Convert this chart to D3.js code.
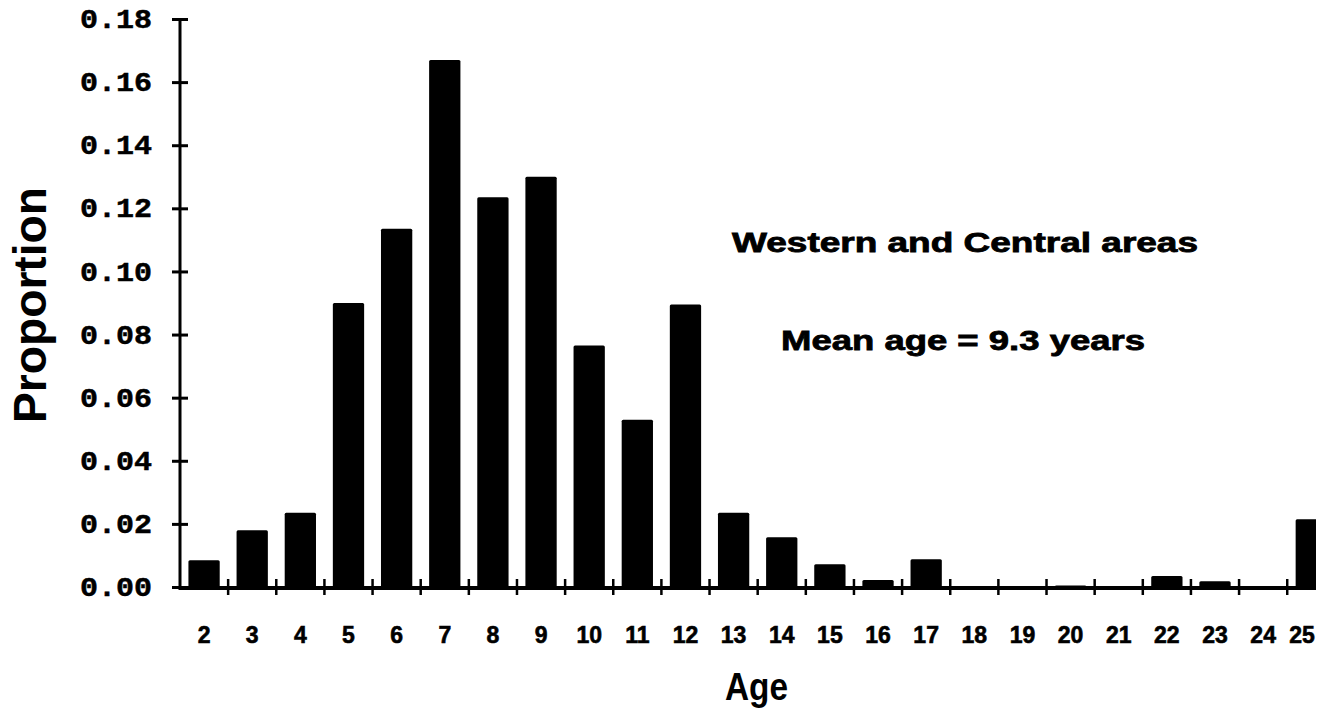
<!DOCTYPE html>
<html>
<head>
<meta charset="utf-8">
<script src="https://cdn.jsdelivr.net/npm/d3@7"></script>
<style>
  html, body { margin: 0; padding: 0; background: #fff; }
  svg { display: block; }
</style>
</head>
<body>
<svg id="chart" width="1320" height="710"></svg>
<script>
// Age classes (years) and the proportion of the sample in each class
const ages = [2, 3, 4, 5, 6, 7, 8, 9, 10, 11, 12, 13, 14, 15, 16, 17, 18, 19, 20, 21, 22, 23, 24, 25];
const proportions = [0.0085, 0.018, 0.0235, 0.090, 0.1135, 0.167, 0.1235, 0.130, 0.0765, 0.053, 0.0895,
                     0.0235, 0.0158, 0.0072, 0.0022, 0.0088, 0, 0, 0.0005, 0, 0.0035, 0.0018, 0, 0.0215];
const yTicks = [0, 0.02, 0.04, 0.06, 0.08, 0.10, 0.12, 0.14, 0.16, 0.18];
const areaLabel = "Western and Central areas";
const meanLabel = "Mean age = 9.3 years";
const xTitle = "Age";
const yTitle = "Proportion";

const data = ages.map((a, i) => ({ age: a, value: proportions[i] }));

const svg = d3.select("#chart");
const sans = "'Liberation Sans', Arial, Helvetica, sans-serif";
const mono = "'Liberation Mono', 'Courier New', monospace";

const axisX = 180;
const rightEdge = 1316;
const step = 48.14;

const x = d3.scaleBand()
  .domain(ages)
  .range([axisX, axisX + step * ages.length])
  .paddingInner(0.35)
  .paddingOuter(0.175);

const y = d3.scaleLinear()
  .domain([0, 0.18])
  .range([587, 19]);

// The plotting frame stops at the right margin; the last bar is trimmed there
svg.append("defs").append("clipPath").attr("id", "plot-clip")
  .append("rect")
  .attr("x", axisX).attr("y", 0)
  .attr("width", rightEdge - axisX).attr("height", 710);

// Bars
svg.append("g")
  .attr("clip-path", "url(#plot-clip)")
  .selectAll("rect")
  .data(data.filter(d => d.value > 0))
  .join("rect")
  .attr("x", d => x(d.age))
  .attr("width", x.bandwidth())
  .attr("y", d => y(d.value))
  .attr("height", d => y(0) - y(d.value))
  .attr("rx", 1.5)
  .attr("fill", "#000");

// Baseline of the x axis
svg.append("line")
  .attr("x1", axisX).attr("x2", rightEdge)
  .attr("y1", y(0) + 1).attr("y2", y(0) + 1)
  .attr("stroke", "#000").attr("stroke-width", 4);

// Small ticks between the age classes
const boundaries = ages.slice(1).map(a => x(a) - x.step() * x.paddingOuter());
svg.append("g")
  .selectAll("line")
  .data(boundaries)
  .join("line")
  .attr("x1", d => d).attr("x2", d => d)
  .attr("y1", y(0) - 8).attr("y2", y(0) + 8)
  .attr("stroke", "#000").attr("stroke-width", 2.5);

// Age labels under each bar (the last one is kept inside the frame)
const gx = svg.append("g")
  .attr("transform", `translate(0, ${y(0) + 1})`)
  .call(d3.axisBottom(x).tickSize(0).tickPadding(39).tickFormat(d => d));
gx.select(".domain").remove();
gx.selectAll(".tick")
  .attr("transform", d => `translate(${Math.min(x(d) + x.bandwidth() / 2, rightEdge - 14)},0)`);
gx.selectAll("text")
  .attr("font-family", sans)
  .attr("font-weight", "bold")
  .attr("font-size", 23)
  .attr("stroke", "#000")
  .attr("stroke-width", 0.6)
  .attr("fill", "#000");

// Y axis with ticks crossing the axis line
const gy = svg.append("g")
  .attr("transform", `translate(${axisX}, 0)`)
  .call(d3.axisLeft(y).tickValues(yTicks).tickFormat(d3.format(".2f")).tickSize(0).tickPadding(28));
gy.select(".domain").remove();
gy.selectAll(".tick line").remove();
gy.selectAll(".tick")
  .append("line")
  .attr("x1", -8).attr("x2", 8)
  .attr("stroke", "#000").attr("stroke-width", 3);
gy.selectAll("text")
  .attr("font-family", mono)
  .attr("font-weight", "bold")
  .attr("font-size", 27)
  .attr("textLength", 72)
  .attr("lengthAdjust", "spacingAndGlyphs")
  .attr("stroke", "#000")
  .attr("stroke-width", 0.5)
  .attr("fill", "#000");

svg.append("line")
  .attr("x1", axisX).attr("x2", axisX)
  .attr("y1", y(0.18)).attr("y2", y(0) + 3)
  .attr("stroke", "#000").attr("stroke-width", 3);

// Axis titles
svg.append("text")
  .attr("transform", `translate(46, 305) rotate(-90)`)
  .attr("text-anchor", "middle")
  .attr("font-family", sans)
  .attr("font-weight", "bold")
  .attr("font-size", 46)
  .attr("textLength", 236)
  .attr("lengthAdjust", "spacingAndGlyphs")
  .attr("fill", "#000")
  .text(yTitle);

svg.append("text")
  .attr("x", 725).attr("y", 700)
  .attr("font-family", sans)
  .attr("font-weight", "bold")
  .attr("font-size", 38)
  .attr("textLength", 63)
  .attr("lengthAdjust", "spacingAndGlyphs")
  .attr("fill", "#000")
  .text(xTitle);

// Annotation block
svg.append("text")
  .attr("x", 732).attr("y", 252)
  .attr("font-family", sans)
  .attr("font-weight", "bold")
  .attr("font-size", 27)
  .attr("textLength", 466)
  .attr("lengthAdjust", "spacingAndGlyphs")
  .attr("stroke", "#000")
  .attr("stroke-width", 0.8)
  .attr("fill", "#000")
  .text(areaLabel);

svg.append("text")
  .attr("x", 781).attr("y", 350)
  .attr("font-family", sans)
  .attr("font-weight", "bold")
  .attr("font-size", 28)
  .attr("textLength", 364)
  .attr("lengthAdjust", "spacingAndGlyphs")
  .attr("stroke", "#000")
  .attr("stroke-width", 0.8)
  .attr("fill", "#000")
  .text(meanLabel);
</script>
</body>
</html>
